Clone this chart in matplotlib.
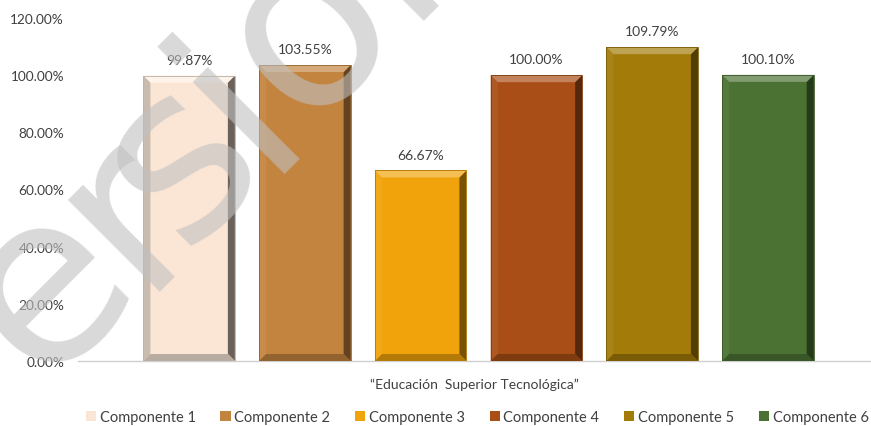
import matplotlib
matplotlib.use("Agg")
import matplotlib.pyplot as plt
from matplotlib.patches import Polygon, Patch
from matplotlib.colors import to_rgb
import numpy as np

# ---- data ----
components = ["Componente 1", "Componente 2", "Componente 3",
              "Componente 4", "Componente 5", "Componente 6"]
values = [99.87, 103.55, 66.67, 100.00, 109.79, 100.10]
labels = ["99.87%", "103.55%", "66.67%", "100.00%", "109.79%", "100.10%"]
colors = ["#FBE6D5", "#C3843F", "#F0A30A", "#A94E16", "#A27B08", "#4B7232"]
yticks = [0, 20, 40, 60, 80, 100, 120]
ytick_labels = ["0.00%", "20.00%", "40.00%", "60.00%", "80.00%", "100.00%", "120.00%"]
category = "“Educación  Superior Tecnológica”"

plt.rcParams['font.family'] = ['Lato', 'DejaVu Sans']

W, H = 871, 427
fig = plt.figure(figsize=(W / 100, H / 100), dpi=100)
ax = fig.add_axes([78 / W, 1 - 362 / H, 1 - 78 / W, (362 - 19) / H])

x = np.arange(len(values))
width = 0.79
ax.set_xlim(-0.96, len(values) - 1 + 0.89)
ax.set_ylim(0, 120)


def shade(c, f):
    r = np.array(to_rgb(c))
    if f >= 0:
        return tuple(r + (1 - r) * f)
    return tuple(r * (1 + f))


bars = ax.bar(x, values, width=width, color=colors, zorder=2, linewidth=0)

# bevel effect computed from the bar geometry
ax_w_px = (1 - 78 / W) * W
ax_h_px = (362 - 19)
bx = 7 * (ax.get_xlim()[1] - ax.get_xlim()[0]) / ax_w_px
by = 7 * 120 / ax_h_px
for b, c in zip(bars, colors):
    x0, x1 = b.get_x(), b.get_x() + b.get_width()
    y0, y1 = 0, b.get_height()
    top = [(x0, y1), (x1, y1), (x1 - bx, y1 - by), (x0 + bx, y1 - by)]
    bot = [(x0, y0), (x1, y0), (x1 - bx, y0 + by), (x0 + bx, y0 + by)]
    lef = [(x0, y0), (x0 + bx, y0 + by), (x0 + bx, y1 - by), (x0, y1)]
    rig = [(x1, y0), (x1 - bx, y0 + by), (x1 - bx, y1 - by), (x1, y1)]
    if c == colors[0]:
        tc, bc, lc, rc = shade(c, 0.5), shade("#b8aca0", 0), shade("#c8bcb0", 0), shade("#6a625a", 0)
    else:
        tc, bc, lc, rc = shade(c, 0.3), shade(c, -0.25), shade(c, 0.06), shade(c, -0.5)
    for poly, pc in ((lef, lc), (rig, rc), (bot, bc), (top, tc)):
        ax.add_patch(Polygon(poly, closed=True, facecolor=pc, edgecolor='none', zorder=3))
    ax.add_patch(plt.Rectangle((x0, y0), x1 - x0, y1 - y0, fill=False,
                               edgecolor=shade(c, -0.25), linewidth=0.6, zorder=4))

for xi, v, lab in zip(x, values, labels):
    ax.annotate(lab, (xi, v), xytext=(0, 7), textcoords='offset points',
                ha='center', va='bottom', fontsize=10, color='#404040', zorder=5)

ax.set_yticks(yticks)
ax.set_yticklabels(ytick_labels, fontsize=9.8, color='#404040')
ax.tick_params(axis='y', length=0, pad=10)
ax.set_xticks([])
ax.set_xlabel(category, fontsize=10, color='#404040', labelpad=12)
for s in ['top', 'right', 'left']:
    ax.spines[s].set_visible(False)
ax.spines['bottom'].set_color('#D0D0D0')
ax.spines['bottom'].set_linewidth(1)
ax.spines['bottom'].set_zorder(1)

handles = [Patch(facecolor=c, edgecolor='none') for c in colors]
fig.legend(handles, components, loc='center', bbox_to_anchor=(0.548, 0.021),
           ncol=6, frameon=False, fontsize=10.5, handlelength=0.7, handleheight=0.7,
           handletextpad=0.25, columnspacing=1.7, labelcolor='#404040')

# watermark "Versión", letter by letter along a 45° diagonal
wm_letters = ["V", "e", "r", "s", "i", "ó", "n"]
wm_centers = [(-75, 405), (45, 287), (127, 212), (180, 160), (240, 105), (308, 30), (410, -78)]
xh_half = 65  # half x-height in pixels
for ch, (cx, cy) in zip(wm_letters, wm_centers):
    bx_px = cx + xh_half * 0.7071
    by_px = cy + xh_half * 0.7071
    fig.text(bx_px / W, 1 - by_px / H, ch, rotation=45, rotation_mode='anchor',
             ha='center', va='baseline', fontsize=171, family='DejaVu Sans',
             color='#C0C0C0', alpha=0.6, zorder=10)

fig.savefig("out.png", dpi=100)
